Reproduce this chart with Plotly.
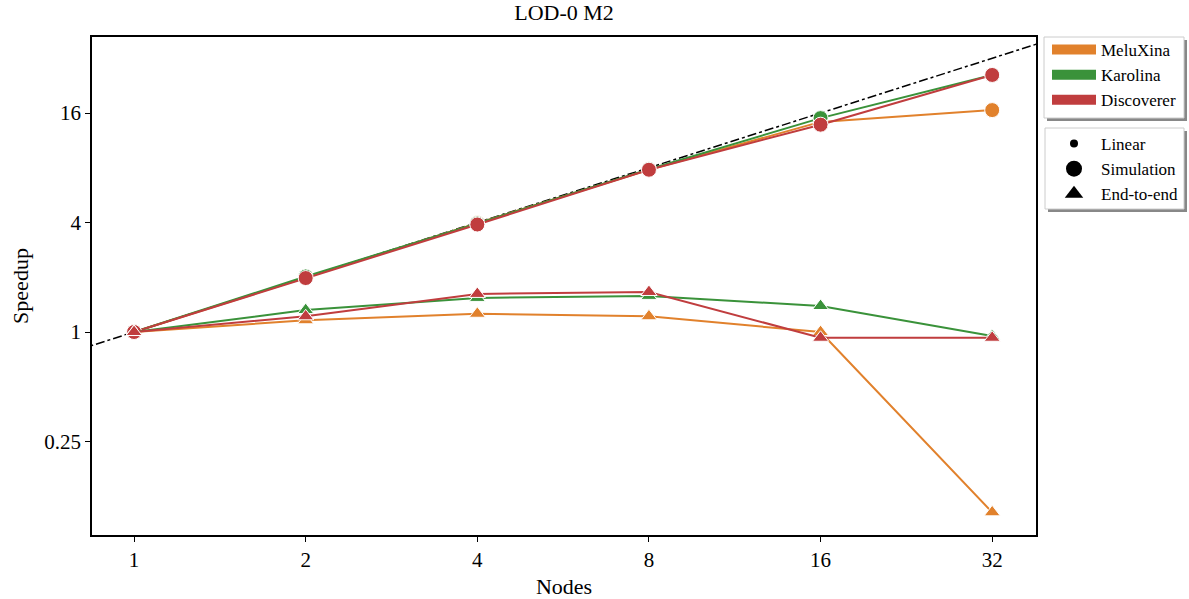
import plotly.graph_objects as go

nodes = [1, 2, 4, 8, 16, 32]
systems = ["MeluXina", "Karolina", "Discoverer"]
colors = {"MeluXina": "#E1812C", "Karolina": "#3A923A", "Discoverer": "#C03D3E"}

sim_meluxina = [1.0, 2.0, 3.97, 7.8, 14.3, 16.6]
sim_karolina = [1.0, 2.02, 3.95, 7.85, 15.0, 25.9]
sim_discoverer = [1.0, 1.98, 3.9, 7.8, 13.8, 25.9]

e2e_meluxina = [1.0, 1.16, 1.26, 1.22, 1.0, 0.102]
e2e_karolina = [1.0, 1.32, 1.54, 1.58, 1.39, 0.95]
e2e_discoverer = [1.0, 1.22, 1.62, 1.66, 0.93, 0.93]

linear_x = [0.8, 40]
linear_y = [0.8, 40]

x_ticks = [1, 2, 4, 8, 16, 32]
y_ticks = [0.25, 1, 4, 16]
y_ticktext = ["0.25", "1", "4", "16"]

sim = {"MeluXina": sim_meluxina, "Karolina": sim_karolina, "Discoverer": sim_discoverer}
e2e = {"MeluXina": e2e_meluxina, "Karolina": e2e_karolina, "Discoverer": e2e_discoverer}

FONT = "Liberation Serif"
fig = go.Figure()

fig.add_trace(go.Scatter(x=linear_x, y=linear_y, mode="lines",
                         line=dict(color="black", width=1.5, dash="dashdot"),
                         showlegend=False, hoverinfo="skip"))

for s in systems:
    fig.add_trace(go.Scatter(x=nodes, y=sim[s], mode="lines+markers",
                             line=dict(color=colors[s], width=2),
                             marker=dict(symbol="circle", size=15, color=colors[s],
                                         line=dict(color="white", width=1)),
                             showlegend=False, cliponaxis=False))
for s in systems:
    fig.add_trace(go.Scatter(x=nodes, y=e2e[s], mode="lines+markers",
                             line=dict(color=colors[s], width=2),
                             marker=dict(symbol="triangle-up", size=14, color=colors[s],
                                         line=dict(color="white", width=1)),
                             showlegend=False, cliponaxis=False))

# legend 1: systems
for s in systems:
    fig.add_trace(go.Scatter(x=[None], y=[None], mode="lines", name=s,
                             line=dict(color=colors[s], width=11),
                             legend="legend", showlegend=True))
# legend 2: types
fig.add_trace(go.Scatter(x=[None], y=[None], mode="markers", name="Linear",
                         marker=dict(symbol="circle", size=8, color="black"),
                         legend="legend2", showlegend=True))
fig.add_trace(go.Scatter(x=[None], y=[None], mode="markers", name="Simulation",
                         marker=dict(symbol="circle", size=16, color="black"),
                         legend="legend2", showlegend=True))
fig.add_trace(go.Scatter(x=[None], y=[None], mode="markers", name="End-to-end",
                         marker=dict(symbol="triangle-up", size=16, color="black"),
                         legend="legend2", showlegend=True))

W, H = 1189, 599
L, R, T, B = 92, 1036, 37, 535
pw, ph = R - L, B - T

def px(x):
    return (x - L) / pw

def py(y):
    return 1 - (y - T) / ph

shapes = []
for (x0, y0, x1, y1) in [(1044, 37, 1184, 118), (1045, 128, 1184, 209)]:
    shapes.append(dict(type="rect", xref="paper", yref="paper",
                       x0=px(x0 + 3), x1=px(x1 + 3), y0=py(y1 + 3), y1=py(y0 + 3),
                       fillcolor="#888888", line=dict(width=0), layer="below"))
    shapes.append(dict(type="rect", xref="paper", yref="paper",
                       x0=px(x0), x1=px(x1), y0=py(y1), y1=py(y0),
                       fillcolor="white", line=dict(color="#cccccc", width=1), layer="below"))

legend_style = dict(xanchor="left", yanchor="top", bgcolor="rgba(0,0,0,0)", borderwidth=0,
                    font=dict(family=FONT, size=17), itemwidth=44, tracegroupgap=0)

fig.update_layout(
    width=W, height=H,
    margin=dict(l=L, r=W - R, t=T, b=H - B, autoexpand=False),
    paper_bgcolor="white", plot_bgcolor="white",
    font=dict(family=FONT, size=21, color="black"),
    title=dict(text="LOD-0 M2", x=px(564), xref="paper", xanchor="center",
               y=1 - 12 / H, yanchor="middle", font=dict(size=22)),
    xaxis=dict(type="log", range=[-0.0738, 1.582], tickvals=x_ticks,
               ticktext=[str(v) for v in x_ticks], ticks="outside", ticklen=5,
               tickwidth=1.2, tickcolor="black", showgrid=False, zeroline=False,
               showline=True, linecolor="black", linewidth=1.5, mirror=True,
               automargin=False, tickfont=dict(size=21),
               title=dict(text="Nodes", standoff=8, font=dict(size=22))),
    yaxis=dict(type="log", range=[-1.116, 1.622], tickvals=y_ticks,
               ticktext=y_ticktext, ticks="outside", ticklen=5,
               tickwidth=1.2, tickcolor="black", showgrid=False, zeroline=False,
               showline=True, linecolor="black", linewidth=1.5, mirror=True,
               automargin=False, tickfont=dict(size=21),
               title=dict(text="Speedup", standoff=10, font=dict(size=22))),
    legend=dict(x=px(1047), y=py(32), **legend_style),
    legend2=dict(x=px(1047), y=py(126), **legend_style),
    shapes=shapes,
)

fig.write_html("out.html")
